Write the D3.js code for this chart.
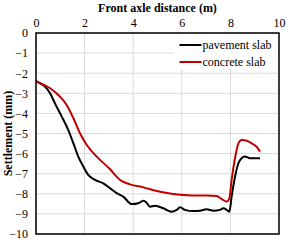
<!DOCTYPE html>
<html>
<head>
<meta charset="utf-8">
<script src="https://cdn.jsdelivr.net/npm/d3@7"></script>
<style>
  body { margin: 0; background: #fff; }
</style>
</head>
<body>
<div id="chart"></div>
<script>
// distance along axle (m) and settlement (mm)
var pavementX = [0, 0.12, 0.37, 0.58, 0.78, 1.06, 1.33, 1.54, 1.74, 1.95, 2.15, 2.43, 2.77, 3.05, 3.3, 3.59, 3.94, 4.21, 4.42, 4.55, 4.69, 4.9, 5.24, 5.58, 5.79, 5.93, 6.13, 6.47, 6.75, 7.02, 7.3, 7.57, 7.71, 7.85, 7.96, 8.05, 8.19, 8.33, 8.46, 8.6, 8.81, 9.01, 9.22];
var pavementY = [-2.4, -2.47, -2.67, -3.0, -3.5, -4.16, -4.83, -5.49, -6.15, -6.65, -7.06, -7.31, -7.48, -7.73, -7.95, -8.14, -8.51, -8.47, -8.34, -8.44, -8.64, -8.6, -8.72, -8.89, -8.8, -8.67, -8.8, -8.86, -8.84, -8.77, -8.84, -8.8, -8.72, -8.8, -8.89, -8.14, -7.15, -6.48, -6.23, -6.15, -6.23, -6.23, -6.23];
var concreteX = [0, 0.12, 0.58, 0.99, 1.26, 1.54, 1.81, 2.09, 2.5, 3.05, 3.46, 3.87, 4.42, 4.97, 5.51, 6.06, 6.75, 7.02, 7.43, 7.64, 7.85, 7.96, 8.05, 8.19, 8.33, 8.46, 8.67, 8.88, 9.08, 9.22];
var concreteY = [-2.4, -2.47, -2.75, -3.17, -3.58, -4.24, -4.99, -5.57, -6.15, -6.78, -7.31, -7.53, -7.68, -7.86, -7.98, -8.06, -8.09, -8.09, -8.11, -8.26, -8.39, -8.22, -7.31, -6.23, -5.49, -5.32, -5.36, -5.49, -5.66, -5.9];
var xTicks = [0, 2, 4, 6, 8, 10];
var yTicks = [0, -1, -2, -3, -4, -5, -6, -7, -8, -9, -10];
var seriesNames = ["pavement slab", "concrete slab"];
var seriesColors = ["#000000", "#c00000"];

var W = 288, H = 242;
var margin = {left: 36, right: 9, top: 33, bottom: 8};
var width = W - margin.left - margin.right, height = H - margin.top - margin.bottom;
var serif = "Liberation Serif";

var svg = d3.select("#chart").append("svg")
    .attr("width", W).attr("height", H);
var g = svg.append("g")
    .attr("transform", "translate(" + margin.left + "," + margin.top + ")");

var x = d3.scaleLinear().domain([0, 10]).range([0, width]);
var y = d3.scaleLinear().domain([-10, 0]).range([height, 0]);

// gridlines
g.selectAll(".hgrid").data(yTicks).enter().append("line")
    .attr("x1", 0).attr("x2", width)
    .attr("y1", function(d) { return y(d); }).attr("y2", function(d) { return y(d); })
    .attr("stroke", "#d9d9d9").attr("stroke-width", 1);
g.selectAll(".vgrid").data(xTicks).enter().append("line")
    .attr("y1", 0).attr("y2", height)
    .attr("x1", function(d) { return x(d); }).attr("x2", function(d) { return x(d); })
    .attr("stroke", "#d9d9d9").attr("stroke-width", 1);

// axes
var xAxis = g.append("g").call(d3.axisTop(x).tickValues(xTicks).tickSize(0).tickPadding(6));
xAxis.attr("font-family", null).attr("font-size", null);
xAxis.select(".domain").remove();
xAxis.selectAll("text").attr("fill", "#000").attr("font-family", serif).attr("font-size", 12);
var yAxis = g.append("g").call(d3.axisLeft(y).tickValues(yTicks).tickSize(0).tickPadding(8));
yAxis.attr("font-family", null).attr("font-size", null);
yAxis.select(".domain").remove();
yAxis.selectAll("text").attr("fill", "#000").attr("font-family", serif).attr("font-size", 12);

// lines
var data = [
    pavementX.map(function(d, i) { return [d, pavementY[i]]; }),
    concreteX.map(function(d, i) { return [d, concreteY[i]]; })
];
var line = d3.line()
    .x(function(d) { return x(d[0]); })
    .y(function(d) { return y(d[1]); })
    .curve(d3.curveMonotoneX);
g.selectAll(".series").data(data).enter().append("path")
    .attr("d", line)
    .attr("fill", "none")
    .attr("stroke", function(d, i) { return seriesColors[i]; })
    .attr("stroke-width", 2);

// plot frame
g.append("rect")
    .attr("width", width).attr("height", height)
    .attr("fill", "none").attr("stroke", "#000").attr("stroke-width", 1.5);

// legend
var leg = g.append("g").attr("transform", "translate(" + (x(5.7)) + ",2)");
leg.append("rect").attr("x", 0).attr("y", 0).attr("width", width - x(5.7) - 1).attr("height", 34)
    .attr("fill", "#fff");
seriesNames.forEach(function(name, i) {
    var yy = 10 + i * 17;
    leg.append("line").attr("x1", 5).attr("x2", 27).attr("y1", yy).attr("y2", yy)
        .attr("stroke", seriesColors[i]).attr("stroke-width", 2);
    leg.append("text").attr("x", 28).attr("y", yy).attr("dy", "0.35em")
        .attr("font-family", serif).attr("font-size", 12).text(name);
});

// titles
svg.append("text")
    .attr("x", margin.left + width / 2).attr("y", 12)
    .attr("text-anchor", "middle").attr("font-family", serif)
    .attr("font-size", 12).attr("font-weight", "bold")
    .text("Front axle distance (m)");
svg.append("text")
    .attr("transform", "translate(12," + (margin.top + height / 2) + ") rotate(-90)")
    .attr("text-anchor", "middle").attr("font-family", serif)
    .attr("font-size", 12).attr("font-weight", "bold")
    .text("Settlement (mm)");
</script>
</body>
</html>
